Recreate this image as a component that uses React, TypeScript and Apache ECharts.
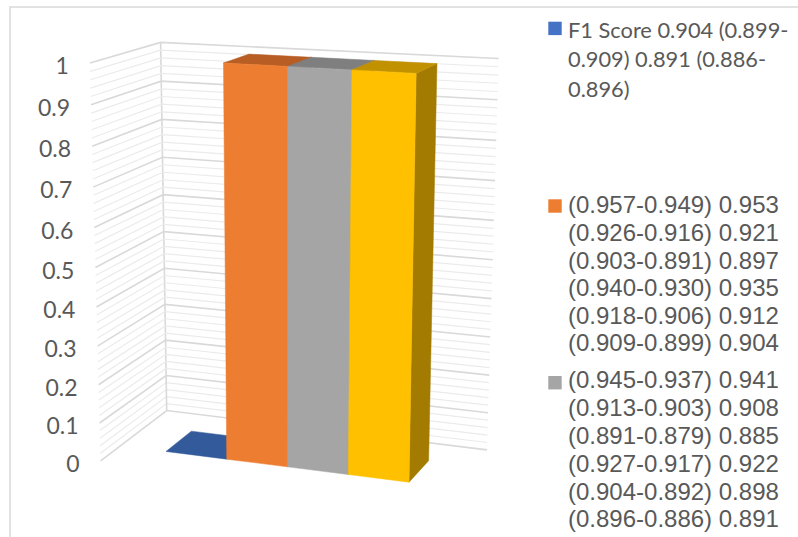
import React, { useEffect, useRef } from 'react';
import * as echarts from 'echarts';

// ---------- data ----------
const categories = ['F1 Score'];
const seriesNames = [
  'F1 Score 0.904 (0.899-0.909) 0.891 (0.886-0.896)',
  '(0.957-0.949) 0.953 (0.926-0.916) 0.921 (0.903-0.891) 0.897 (0.940-0.930) 0.935 (0.918-0.906) 0.912 (0.909-0.899) 0.904',
  '(0.945-0.937) 0.941 (0.913-0.903) 0.908 (0.891-0.879) 0.885 (0.927-0.917) 0.922 (0.904-0.892) 0.898 (0.896-0.886) 0.891',
  'Series 4',
];
const legendLines = [
  ['F1 Score 0.904 (0.899-', '0.909) 0.891 (0.886-', '0.896)'],
  [
    '(0.957-0.949) 0.953',
    '(0.926-0.916) 0.921',
    '(0.903-0.891) 0.897',
    '(0.940-0.930) 0.935',
    '(0.918-0.906) 0.912',
    '(0.909-0.899) 0.904',
  ],
  [
    '(0.945-0.937) 0.941',
    '(0.913-0.903) 0.908',
    '(0.891-0.879) 0.885',
    '(0.927-0.917) 0.922',
    '(0.904-0.892) 0.898',
    '(0.896-0.886) 0.891',
  ],
];
const seriesValues = [0, 1, 1, 1];
const yTickValues = [0, 0.1, 0.2, 0.3, 0.4, 0.5, 0.6, 0.7, 0.8, 0.9, 1];
const yTickLabels = ['0', '0.1', '0.2', '0.3', '0.4', '0.5', '0.6', '0.7', '0.8', '0.9', '1'];

// ---------- styles ----------
const frontColors = ['#4472C4', '#ED7D31', '#A5A5A5', '#FFC000'];
const topColors = ['#335A9A', '#B85E24', '#7F7F7F', '#C29100'];
const sideColors = ['#2A4A80', '#A0521F', '#6E6E6E', '#A27B00'];
const CAL_FONT = 'Lato, "Open Sans", sans-serif';
const ARIAL_FONT = '"Liberation Sans", Arial, sans-serif';

// 3D frame: screen positions of box corners (u: left->right, v: bottom->top, w: front->back)
const C000 = [100.6, 460.8];
const C010 = [89.9, 63];
const C001 = [166.7, 410.5];
const C011 = [160.6, 42.4];
const C100 = [440.7, 504.3];
const C110 = [449.6, 83.5];
const C101 = [487, 449.9];
const C111 = [498.7, 58.5];
const VQ = 0.945; // vertical perspective foreshortening
const GAP = 1.5; // gap width (in bar widths)
const W_FRONT = 0.3;
const W_BACK = 0.7;
const MINOR_SPLIT = 5;

const lerp = (a: number[], b: number[], t: number) => [a[0] + (b[0] - a[0]) * t, a[1] + (b[1] - a[1]) * t];
function proj(u: number, v: number, w: number) {
  const vv = (v * VQ) / (1 + (VQ - 1) * v);
  const f0 = lerp(lerp(C000, C010, vv), lerp(C100, C110, vv), u);
  const f1 = lerp(lerp(C001, C011, vv), lerp(C101, C111, vv), u);
  return lerp(f0, f1, w);
}

export default function App() {
  const ref = useRef<HTMLDivElement>(null);
  useEffect(() => {
    if (!ref.current) return;
    const chart = echarts.init(ref.current, undefined, { renderer: 'svg' });
    const N = seriesValues.length;

    const barSeries = seriesValues.map((val, i) => ({
      type: 'custom',
      name: seriesNames[i],
      clip: false,
      z: 3,
      data: [[0, val]],
      renderItem: (params: any, api: any) => {
        const cs = params.coordSys;
        const cat = api.value(0);
        const v = api.value(1);
        const base = api.coord([cat, 0]);
        const top = api.coord([cat, v]);
        const band = api.size([1, 0])[0];
        const slot = band / (N + GAP);
        const left = base[0] - band / 2 + slot * (GAP / 2 + i);
        const uL = (left - cs.x) / cs.width;
        const uR = (left + slot - cs.x) / cs.width;
        const vt = (cs.y + cs.height - top[1]) / cs.height;
        const children: any[] = [];
        const poly = (pts: number[][], fill: string) => ({
          type: 'polygon',
          shape: { points: pts },
          style: { fill, stroke: fill, lineWidth: 0.5 },
        });
        if (vt > 0.0001) {
          children.push(
            poly([proj(uR, 0, W_FRONT), proj(uR, vt, W_FRONT), proj(uR, vt, W_BACK), proj(uR, 0, W_BACK)], sideColors[i])
          );
        }
        children.push(
          poly([proj(uL, vt, W_FRONT), proj(uR, vt, W_FRONT), proj(uR, vt, W_BACK), proj(uL, vt, W_BACK)], topColors[i])
        );
        if (vt > 0.0001) {
          children.push(
            poly([proj(uL, 0, W_FRONT), proj(uR, 0, W_FRONT), proj(uR, vt, W_FRONT), proj(uL, vt, W_FRONT)], frontColors[i])
          );
        }
        return { type: 'group', children };
      },
    }));

    const gridSeries = {
      type: 'custom',
      name: 'grid',
      clip: false,
      z: 1,
      silent: true,
      data: yTickValues.map((t) => [0, t]),
      renderItem: (params: any, api: any) => {
        const cs = params.coordSys;
        const idx = params.dataIndex;
        const val = api.value(1);
        const toV = (y: number) => (cs.y + cs.height - api.coord([0, y])[1]) / cs.height;
        const children: any[] = [];
        const addLine = (v: number, major: boolean) => {
          children.push({
            type: 'polyline',
            shape: { points: [proj(0, v, 0), proj(0, v, 1), proj(1, v, 1)] },
            style: { stroke: major ? '#D9D9D9' : '#EBEBEB', lineWidth: major ? 1.6 : 1.2, fill: 'none' },
          });
        };
        if (idx < yTickValues.length - 1) {
          const next = yTickValues[idx + 1];
          for (let j = 1; j < MINOR_SPLIT; j++) addLine(toV(val + ((next - val) * j) / MINOR_SPLIT), false);
        }
        addLine(toV(val), true);
        if (idx === 0) {
          children.push({
            type: 'line',
            shape: { x1: proj(0, 0, 1)[0], y1: proj(0, 0, 1)[1], x2: proj(0, 1, 1)[0], y2: proj(0, 1, 1)[1] },
            style: { stroke: '#D9D9D9', lineWidth: 1.6 },
          });
        }
        const a = proj(0, toV(val), 0);
        children.push({
          type: 'text',
          style: {
            text: yTickLabels[idx],
            x: a[0] - 21,
            y: a[1] + 2,
            align: 'right',
            verticalAlign: 'middle',
            font: `23px ${CAL_FONT}`,
            fill: '#595959',
          },
        });
        return { type: 'group', children };
      },
    };

    const legendTops = [14.5, 191.2, 366.1];
    const legendLH = [29.5, 27.6, 27.8];
    const legendIconY = [21.7, 199.3, 376];
    const legendFonts = [`21.8px ${CAL_FONT}`, `24px ${ARIAL_FONT}`, `24px ${ARIAL_FONT}`];
    const graphic: any[] = [
      {
        type: 'rect',
        z: -10,
        shape: { x: 10, y: 7, width: 900, height: 700 },
        style: { fill: 'none', stroke: '#D9D9D9', lineWidth: 1.5 },
      },
    ];
    legendLines.forEach((lines, i) => {
      graphic.push({
        type: 'rect',
        shape: { x: 548.3, y: legendIconY[i], width: 13.4, height: 13.4 },
        style: { fill: frontColors[i] },
      });
      graphic.push({
        type: 'text',
        x: 568,
        y: legendTops[i],
        style: {
          text: lines.join('\n'),
          font: legendFonts[i],
          lineHeight: legendLH[i],
          fill: '#595959',
          verticalAlign: 'top',
          align: 'left',
        },
      });
    });

    chart.setOption({
      animation: false,
      backgroundColor: '#FFFFFF',
      grid: { left: 100, top: 63, width: 350, height: 398 },
      xAxis: { type: 'category', data: categories, show: false },
      yAxis: { type: 'value', min: 0, max: 1, interval: 0.1, show: false },
      graphic,
      series: [gridSeries, ...barSeries],
    });
    return () => chart.dispose();
  }, []);
  return <div ref={ref} style={{ position: 'absolute', left: 0, top: 0, width: 798, height: 537 }} />;
}
